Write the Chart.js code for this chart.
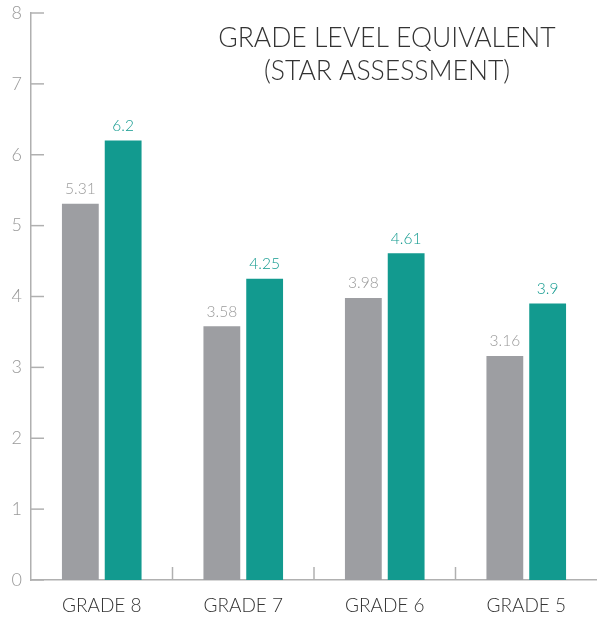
<!DOCTYPE html>
<html><head><meta charset="utf-8">
<script src="https://cdn.jsdelivr.net/npm/chart.js@4"></script>
<style>html,body{margin:0;padding:0;background:#fff}#wrap{width:597px;height:617px}</style>
</head><body><div id="wrap"><canvas id="c"></canvas></div>
<script>
const categories = ["GRADE 8", "GRADE 7", "GRADE 6", "GRADE 5"];
const seriesGray = [5.31, 3.58, 3.98, 3.16];
const seriesTeal = [6.2, 4.25, 4.61, 3.9];
const yTicks = [0, 1, 2, 3, 4, 5, 6, 7, 8];
const titleLines = ["GRADE LEVEL EQUIVALENT", "(STAR ASSESSMENT)"];

const GRAY = "#9d9ea2", TEAL = "#129a8f", AXIS = "#b0b0b0";
const FONT = "Lato, 'Open Sans', sans-serif";

const decor = {
  id: "decor",
  afterDraw(chart) {
    const ctx = chart.ctx, x = chart.scales.x, y = chart.scales.y;
    const area = chart.chartArea;
    ctx.save();
    ctx.strokeStyle = AXIS; ctx.lineWidth = 1.5;
    yTicks.forEach(v => {
      const py = y.getPixelForValue(v);
      ctx.beginPath(); ctx.moveTo(area.left, py); ctx.lineTo(area.left + 13, py); ctx.stroke();
    });
    for (let i = 1; i < categories.length; i++) {
      const px = (x.getPixelForTick(i - 1) + x.getPixelForTick(i)) / 2;
      ctx.beginPath(); ctx.moveTo(px, area.bottom); ctx.lineTo(px, area.bottom - 13); ctx.stroke();
    }
    ctx.font = "300 15.5px " + FONT;
    ctx.textAlign = "center"; ctx.textBaseline = "bottom";
    chart.data.datasets.forEach((ds, di) => {
      const meta = chart.getDatasetMeta(di);
      meta.data.forEach((el, i) => {
        ctx.fillStyle = di === 0 ? "#9a9a9a" : TEAL;
        ctx.fillText(String(ds.data[i]), el.x, el.y - 7);
      });
    });
    ctx.fillStyle = "#333";
    ctx.font = "300 26.5px " + FONT;
    ctx.textBaseline = "middle";
    ctx.fillText(titleLines[0], 387, 38);
    ctx.fillText(titleLines[1], 387, 71);
    ctx.restore();
  }
};

new Chart(document.getElementById("c"), {
  type: "bar",
  data: {
    labels: categories,
    datasets: [
      { data: seriesGray, backgroundColor: GRAY },
      { data: seriesTeal, backgroundColor: TEAL }
    ]
  },
  options: {
    responsive: true, maintainAspectRatio: false, animation: false,
    layout: { padding: 0 },
    plugins: { legend: { display: false }, tooltip: { enabled: false } },
    datasets: { bar: { categoryPercentage: 0.605, barPercentage: 0.86 } },
    scales: {
      x: {
        grid: { display: false, drawTicks: false },
        border: { display: true, color: AXIS, width: 1.5 },
        ticks: { color: "#333", font: { family: FONT, size: 19, weight: 300 }, padding: 14 },
        afterFit(s) { s.height = 37; s.paddingLeft = 0; s.paddingRight = 0; }
      },
      y: {
        min: 0, max: 8,
        afterBuildTicks(s) { s.ticks = yTicks.map(v => ({ value: v })); },
        grid: { display: false, drawTicks: false },
        border: { display: true, color: AXIS, width: 1.5 },
        ticks: { color: "#999", font: { family: FONT, size: 18, weight: 300, lineHeight: 1 }, padding: 9 },
        afterFit(s) { s.width = 31; s.paddingTop = 13; s.paddingBottom = 0; }
      }
    }
  },
  plugins: [decor]
});
</script></body></html>
